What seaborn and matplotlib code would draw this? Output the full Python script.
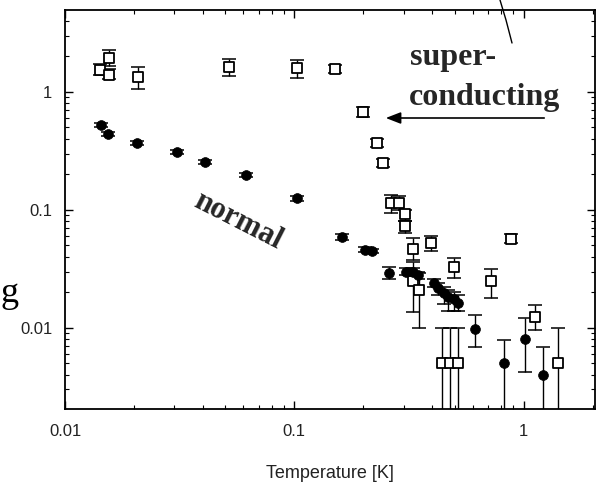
import numpy as np
import pandas as pd
import matplotlib
matplotlib.use("Agg")
import matplotlib.pyplot as plt
import seaborn as sns
from matplotlib.lines import Line2D

# ---- data ----
sc_T = [0.0142, 0.0155, 0.0155, 0.0208, 0.052, 0.103, 0.151, 0.200, 0.230, 0.245,
        0.265, 0.285, 0.305, 0.305, 0.331, 0.393, 0.331, 0.350, 0.495, 0.718,
        0.878, 0.443, 0.480, 0.520, 1.117, 1.41]
sc_g = [1.54, 1.94, 1.40, 1.34, 1.63, 1.60, 1.57, 0.68, 0.37, 0.25,
        0.115, 0.115, 0.092, 0.073, 0.047, 0.052, 0.025, 0.021, 0.033, 0.025,
        0.057, 0.005, 0.005, 0.005, 0.0124, 0.005]
sc_lo = [1.38, 1.65, 1.28, 1.06, 1.37, 1.31, 1.45, 0.61, 0.34, 0.23,
         0.094, 0.100, 0.080, 0.064, 0.0376, 0.045, 0.0137, 0.010, 0.0266, 0.018,
         0.052, 0.0015, 0.0015, 0.0015, 0.0096, 0.0015]
sc_hi = [1.72, 2.27, 1.55, 1.63, 1.90, 1.87, 1.70, 0.75, 0.40, 0.27,
         0.134, 0.130, 0.100, 0.080, 0.058, 0.060, 0.036, 0.029, 0.039, 0.0316,
         0.062, 0.010, 0.010, 0.010, 0.0157, 0.010]

n_T = [0.01436, 0.0154, 0.0206, 0.0308, 0.0409, 0.0617, 0.103, 0.162, 0.204, 0.219,
       0.260, 0.306, 0.328, 0.348, 0.405, 0.425, 0.448, 0.470, 0.495, 0.520,
       0.617, 0.818, 1.02, 1.21]
n_g = [0.525, 0.44, 0.37, 0.31, 0.255, 0.198, 0.126, 0.059, 0.046, 0.045,
       0.029, 0.030, 0.030, 0.028, 0.024, 0.0217, 0.0198, 0.0183, 0.0176, 0.0163,
       0.0098, 0.005, 0.0081, 0.004]
n_lo = [0.50, 0.42, 0.355, 0.30, 0.245, 0.19, 0.12, 0.056, 0.044, 0.043,
        0.026, 0.028, 0.028, 0.026, 0.022, 0.019, 0.016, 0.014, 0.014, 0.014,
        0.0069, 0.0015, 0.0042, 0.0015]
n_hi = [0.55, 0.46, 0.385, 0.32, 0.265, 0.205, 0.132, 0.062, 0.048, 0.047,
        0.033, 0.032, 0.032, 0.030, 0.026, 0.024, 0.022, 0.021, 0.020, 0.019,
        0.0129, 0.0079, 0.0122, 0.0069]

x_ticks = [0.01, 0.1, 1]
x_ticklabels = ["0.01", "0.1", "1"]
y_ticks = [0.01, 0.1, 1]
y_ticklabels = ["0.01", "0.1", "1"]

sc = pd.DataFrame({"T": sc_T, "g": sc_g, "lo": sc_lo, "hi": sc_hi})
nm = pd.DataFrame({"T": n_T, "g": n_g, "lo": n_lo, "hi": n_hi})

# ---- figure ----
sns.set_style("ticks")
plt.rcParams["font.family"] = ["Liberation Sans", "DejaVu Sans"]

W, H = 602, 493
fig = plt.figure(figsize=(W / 100, H / 100), dpi=100)
ax = fig.add_axes([65 / W, 1 - 409 / H, 530 / W, 399 / H])
ax.set_xscale("log")
ax.set_yscale("log")

# error bars
ax.errorbar(sc["T"], sc["g"], yerr=[sc["g"] - sc["lo"], sc["hi"] - sc["g"]],
            fmt="none", ecolor="black", elinewidth=1.0, capsize=5, capthick=1.1, zorder=2)
ax.errorbar(nm["T"], nm["g"], yerr=[nm["g"] - nm["lo"], nm["hi"] - nm["g"]],
            fmt="none", ecolor="black", elinewidth=1.0, capsize=5, capthick=1.1, zorder=2)

sns.scatterplot(data=sc, x="T", y="g", marker="s", s=52, facecolor="white",
                edgecolor="black", linewidth=1.3, ax=ax, zorder=3)
sns.scatterplot(data=nm, x="T", y="g", marker="o", s=50, color="black",
                edgecolor="black", linewidth=0.5, ax=ax, zorder=3)

ax.set_xlim(0.01, 2.05)
ax.set_ylim(0.00205, 4.95)
ax.set_xticks(x_ticks)
ax.set_xticklabels(x_ticklabels)
ax.set_yticks(y_ticks)
ax.set_yticklabels(y_ticklabels)
ax.set_xlabel("")
ax.set_ylabel("")
ax.tick_params(which="both", direction="in", top=True, right=True, colors="black")
ax.tick_params(which="major", length=6, width=1.0, labelsize=12)
ax.tick_params(axis="x", which="major", pad=11)
ax.tick_params(axis="y", which="major", pad=9)
ax.tick_params(which="minor", length=3, width=0.8)
for sp in ax.spines.values():
    sp.set_linewidth(1.3)
    sp.set_color("black")
for lab in ax.get_xticklabels() + ax.get_yticklabels():
    lab.set_color("#222222")

def fx(px):
    return px / W

def fy(py):
    return 1 - py / H

serif = ["Liberation Serif", "DejaVu Serif"]
fig.text(fx(330), fy(473), "Temperature [K]", ha="center", va="center",
         fontsize=13, color="#222222")
fig.text(fx(10), fy(294), "g", ha="center", va="center", fontsize=26,
         family=serif, color="black")

fig.text(fx(453), fy(58), "super-", ha="center", va="center", fontsize=23,
         family=serif, weight="bold")
fig.text(fx(485), fy(97), "conducting", ha="center", va="center", fontsize=23,
         family=serif, weight="bold")
fig.text(fx(238), fy(221), "normal", ha="center", va="center", fontsize=22,
         family=serif, weight="bold", rotation=-27, rotation_mode="anchor")

ax.annotate("", xy=(383, H - 118), xycoords="figure pixels",
            xytext=(547, H - 118), textcoords="figure pixels",
            arrowprops=dict(arrowstyle="-|>,head_length=0.9,head_width=0.35",
                            color="black", lw=1.2))

# scan mark at the top right
fig.add_artist(Line2D([fx(500), fx(506), fx(512)], [fy(0), fy(20), fy(43)],
                      color="black", lw=1.0, transform=fig.transFigure))

fig.savefig("out.png", dpi=100)
